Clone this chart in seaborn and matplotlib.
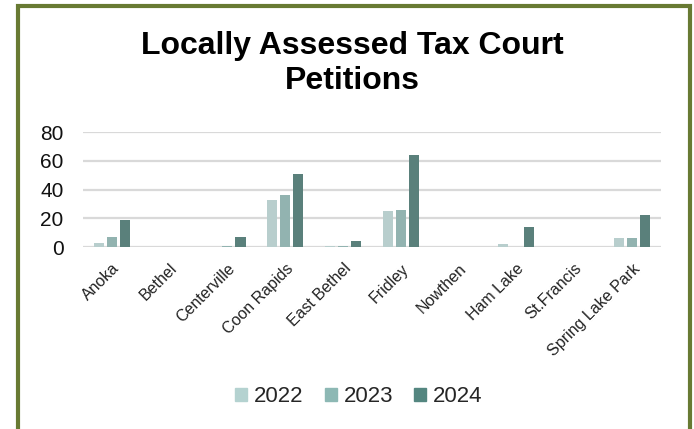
import matplotlib
matplotlib.use("Agg")
import matplotlib.pyplot as plt
import matplotlib.patches as mpatches
import seaborn as sns
import pandas as pd

# Petition counts by city and year
cities = ["Anoka", "Bethel", "Centerville", "Coon Rapids", "East Bethel",
          "Fridley", "Nowthen", "Ham Lake", "St.Francis", "Spring Lake Park"]
years = ["2022", "2023", "2024"]
petitions_2022 = [3, 0, 0, 33, 1, 25, 0, 2, 0, 6]
petitions_2023 = [7, 0, 1, 36, 1, 26, 0, 0, 0, 6]
petitions_2024 = [19, 0, 7, 51, 4, 64, 0, 14, 0, 22]
year_colors = ["#b4d2d0", "#8db8b4", "#548680"]
y_ticks = [0, 20, 40, 60, 80]

df = pd.DataFrame({
    "city": cities * 3,
    "year": [y for y in years for _ in cities],
    "count": petitions_2022 + petitions_2023 + petitions_2024,
})

sns.set_theme(style="white")
plt.rcParams["font.family"] = ["Liberation Sans", "DejaVu Sans"]

fig = plt.figure(figsize=(6.94, 4.29), dpi=100)
ax = fig.add_axes([0.1196, 0.4242, 0.8328, 0.2681])

sns.barplot(data=df, x="city", y="count", hue="year", order=cities,
            hue_order=years, palette=year_colors, width=0.675, gap=0.23,
            edgecolor="none", linewidth=0, errorbar=None, legend=False,
            zorder=3, ax=ax)

ax.set_ylim(0, 80)
ax.set_yticks(y_ticks)
ax.set_xlim(-0.5, len(cities) - 0.5)
ax.yaxis.grid(True, color="#d9d9d9", linewidth=1.6, zorder=0)
ax.set_axisbelow(True)
for side in ["top", "right", "left", "bottom"]:
    ax.spines[side].set_visible(False)
ax.set_xlabel("")
ax.set_ylabel("")
ax.tick_params(axis="y", labelsize=15, pad=14, length=0, labelcolor="#111111")
ax.tick_params(axis="x", labelsize=11.5, pad=10, length=0, labelcolor="#222222")
plt.setp(ax.get_xticklabels(), rotation=45, ha="right", rotation_mode="anchor")

fig.text(0.508, 0.852, "Locally Assessed Tax Court\nPetitions", ha="center",
         va="center", fontsize=23, fontweight="bold", color="black",
         linespacing=1.2)

handles = [mpatches.Patch(color=c, label=y) for c, y in zip(year_colors, years)]
fig.legend(handles=handles, loc="center", bbox_to_anchor=(0.517, 0.075),
           ncol=3, frameon=False, fontsize=16, handlelength=0.55,
           handleheight=0.55, handletextpad=0.3, columnspacing=0.95)

# Olive frame around the chart, open at the bottom edge
frame = mpatches.Rectangle((18 / 694, -0.05), (690 - 18) / 694, 1.05 - 6 / 429,
                           transform=fig.transFigure, fill=False,
                           edgecolor="#687a33", linewidth=3, zorder=10)
fig.patches.append(frame)

fig.savefig("out.png", dpi=100)
